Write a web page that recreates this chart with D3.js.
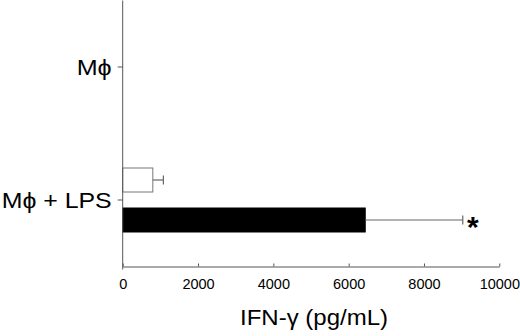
<!DOCTYPE html>
<html>
<head>
<meta charset="utf-8">
<script src="https://cdn.jsdelivr.net/npm/d3@7"></script>
<style>
  html, body { margin: 0; padding: 0; background: #fff; }
  svg { display: block; }
  text { font-family: "Liberation Sans", Arial, sans-serif; fill: #000; }
</style>
</head>
<body>
<svg id="chart" width="520" height="336"></svg>
<script>
// ---- data ----
const categories = ["M\u03D5", "M\u03D5 + LPS"];
const seriesNames = ["control", "treated"];
const controlValues = [0, 800];
const controlErrors = [0, 280];
const treatedValues = [0, 6440];
const treatedErrors = [0, 2590];
const xTicks = [0, 2000, 4000, 6000, 8000, 10000];
const xTitle = "IFN-\u03B3 (pg/mL)";
const significance = ["", "*"];

const svg = d3.select("#chart");
const margin = { left: 122.7, right: 520 - 499.3, top: 0.5, bottom: 336 - 266.5 };
const W = 520 - margin.left - margin.right;
const H = 336 - margin.top - margin.bottom;
const g = svg.append("g").attr("transform", `translate(${margin.left},${margin.top})`);

const x = d3.scaleLinear().domain([0, 10000]).range([0, W]);
const y0 = d3.scaleBand().domain(categories).range([0, H]).padding(0);
const y1 = d3.scaleBand().domain(seriesNames).range([0, y0.bandwidth()])
  .paddingInner(0.4).paddingOuter(0.8625);

const rows = [];
categories.forEach((c, i) => {
  rows.push({ cat: c, s: "control", v: controlValues[i], e: controlErrors[i], fill: "#fff", stroke: "#777" });
  rows.push({ cat: c, s: "treated", v: treatedValues[i], e: treatedErrors[i], fill: "#000", stroke: "#000" });
});
const visible = rows.filter(d => d.v > 0);

// bars
g.selectAll("rect.bar").data(visible).join("rect")
  .attr("class", "bar")
  .attr("x", x(0))
  .attr("y", d => y0(d.cat) + y1(d.s))
  .attr("width", d => x(d.v) - x(0))
  .attr("height", y1.bandwidth())
  .attr("fill", d => d.fill)
  .attr("stroke", d => d.stroke)
  .attr("stroke-width", 1);

// error bars
const eb = g.selectAll("g.err").data(visible).join("g").attr("class", "err")
  .attr("stroke", "#666").attr("stroke-width", 1.2);
eb.append("line")
  .attr("x1", d => x(d.v)).attr("x2", d => x(d.v + d.e))
  .attr("y1", d => y0(d.cat) + y1(d.s) + y1.bandwidth() / 2)
  .attr("y2", d => y0(d.cat) + y1(d.s) + y1.bandwidth() / 2);
eb.append("line")
  .attr("x1", d => x(d.v + d.e)).attr("x2", d => x(d.v + d.e))
  .attr("y1", d => y0(d.cat) + y1(d.s) + y1.bandwidth() / 2 - 4.5)
  .attr("y2", d => y0(d.cat) + y1(d.s) + y1.bandwidth() / 2 + 4.5);

// significance marker
categories.forEach((c, i) => {
  if (!significance[i]) return;
  g.append("text")
    .attr("x", x(treatedValues[i] + treatedErrors[i]) + 10)
    .attr("y", y0(c) + y1("treated") + y1.bandwidth() / 2 + 17)
    .attr("text-anchor", "middle")
    .attr("font-size", 30)
    .attr("font-weight", "bold")
    .text(significance[i]);
});

// x axis
const xAxis = g.append("g").attr("transform", `translate(0,${H})`)
  .call(d3.axisBottom(x).tickValues(xTicks).tickFormat(d3.format("d"))
    .tickSizeInner(-3).tickSizeOuter(0).tickPadding(12));
xAxis.selectAll("path, line").attr("stroke", "#555");
xAxis.selectAll("text").attr("font-size", 14.5).attr("font-family", "Liberation Sans, Arial, sans-serif").attr("fill", "#000");

// y axis
const labelWidths = { "M\u03D5": 35, "M\u03D5 + LPS": 110 };
const yAxis = g.append("g")
  .call(d3.axisLeft(y0).tickSizeInner(5).tickSizeOuter(0).tickPadding(6));
yAxis.select("path").attr("stroke", "#555").attr("d", `M0,0V${H + 3}`);
yAxis.selectAll("line").attr("stroke", "#555");
yAxis.selectAll("text").attr("font-size", 22).attr("font-family", "Liberation Sans, Arial, sans-serif").attr("fill", "#000")
  .attr("dy", "0.36em")
  .attr("textLength", d => labelWidths[d])
  .attr("lengthAdjust", "spacingAndGlyphs");

// x title
svg.append("text")
  .attr("x", 314).attr("y", 325)
  .attr("text-anchor", "middle")
  .attr("font-size", 22)
  .attr("textLength", 148)
  .attr("lengthAdjust", "spacingAndGlyphs")
  .text(xTitle);
</script>
</body>
</html>
